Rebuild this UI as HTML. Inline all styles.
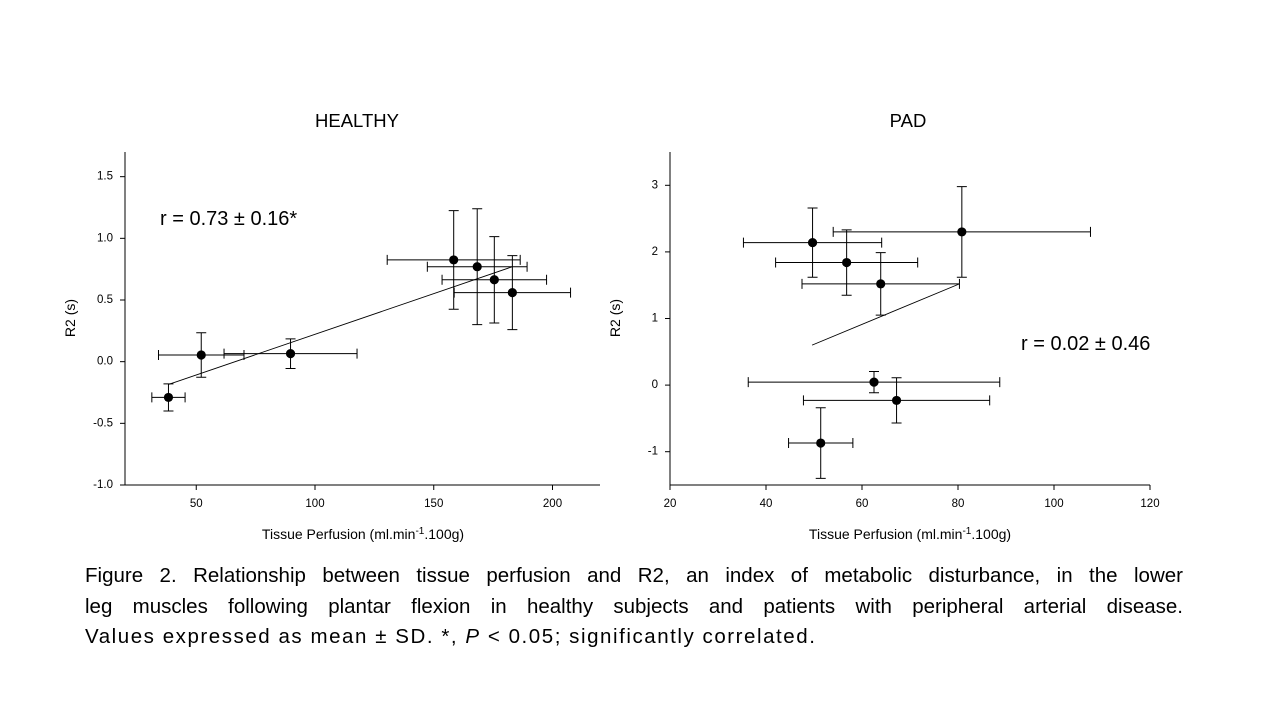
<!DOCTYPE html>
<html><head><meta charset="utf-8">
<style>
body{margin:0;background:#fff;width:1280px;height:720px;overflow:hidden;font-family:"Liberation Sans",Arial,sans-serif;}
#cap{position:absolute;left:85px;top:561px;width:1098px;font-size:20.5px;line-height:30.5px;color:#000;}
#cap .j{text-align:justify;text-align-last:justify;white-space:nowrap;}
#cap .l3{letter-spacing:1.55px;white-space:nowrap;}
</style></head><body>
<svg id="chart" width="1280" height="720" style="position:absolute;left:0;top:0"></svg>
<div id="cap"><div class="j">Figure 2. Relationship between tissue perfusion and R2, an index of metabolic disturbance, in the lower</div><div class="j">leg muscles following plantar flexion in healthy subjects and patients with peripheral arterial disease.</div><div class="l3">Values expressed as mean ± SD. *, <i>P</i> &lt; 0.05; significantly correlated.</div></div>
<script>
const healthyX=[38.3,52.1,89.7,158.4,168.3,175.5,183.1];
const healthyY=[-0.29,0.054,0.065,0.825,0.77,0.664,0.56];
const healthyXErr=[7,18,28,28,21,22,24.5];
const healthyYErr=[0.11,0.18,0.12,0.4,0.47,0.35,0.3];
const healthyFitX=[38.3,183.1];
const healthyFitY=[-0.185,0.77];
const healthyXTicks=[50,100,150,200];
const healthyYTicks=[1.5,1.0,0.5,0.0,-0.5,-1.0];
const padX=[49.7,56.8,63.9,80.8,62.5,67.2,51.4];
const padY=[2.14,1.84,1.52,2.30,0.045,-0.23,-0.87];
const padXErr=[14.4,14.8,16.4,26.8,26.2,19.4,6.7];
const padYErr=[0.52,0.49,0.47,0.68,0.16,0.34,0.53];
const padFitX=[49.6,80.3];
const padFitY=[0.60,1.52];
const padXTicks=[20,40,60,80,100,120];
const padYTicks=[3,2,1,0,-1];

const NS='http://www.w3.org/2000/svg';
const svg=document.getElementById('chart');
function mk(tag,attrs,parent,txt){const e=document.createElementNS(NS,tag);for(const k in attrs)e.setAttribute(k,attrs[k]);if(txt!==undefined)e.textContent=txt;(parent||svg).appendChild(e);return e;}

function panel(cfg){
  const g=mk('g',{});
  
  
  const sx=v=>cfg.x0+(v-cfg.xmin)/(cfg.xmax-cfg.xmin)*(cfg.x1-cfg.x0);
  const sy=v=>cfg.y0-(v-cfg.ymin)/(cfg.ymax-cfg.ymin)*(cfg.y0-cfg.y1);
  const ax=mk('path',{d:`M${cfg.x0},${cfg.y1}V${cfg.y0}H${cfg.x1}`,fill:'none',stroke:'#000','stroke-width':1},g);
  
  
  cfg.xt.forEach(t=>{
    const x=sx(t);
    mk('line',{x1:x,x2:x,y1:cfg.y0,y2:cfg.y0+5,stroke:'#000'},g);
    const l=mk('text',{x:x,y:cfg.y0+22,'font-size':11.5,'text-anchor':'middle','font-family':'Liberation Sans, sans-serif'},g,cfg.fmtX(t));
    
    
  });
  cfg.yt.forEach(t=>{
    const y=sy(t);
    mk('line',{x1:cfg.x0-5,x2:cfg.x0,y1:y,y2:y,stroke:'#000'},g);
    const l=mk('text',{x:cfg.x0-12,y:y+3,'font-size':11.5,'text-anchor':'end','font-family':'Liberation Sans, sans-serif'},g,cfg.fmtY(t));
    
    
  });
  const fit=mk('line',{x1:sx(cfg.fx[0]),y1:sy(cfg.fy[0]),x2:sx(cfg.fx[1]),y2:sy(cfg.fy[1]),stroke:'#000','stroke-width':0.9},g);
  
  
  cfg.X.forEach((xv,i)=>{
    const yv=cfg.Y[i],cx=sx(xv),cy=sy(yv);
    const xa=sx(xv-cfg.XE[i]),xb=sx(xv+cfg.XE[i]),ya=sy(yv-cfg.YE[i]),yb=sy(yv+cfg.YE[i]);
    const eb=mk('path',{d:`M${xa},${cy}H${xb}M${xa},${cy-5}V${cy+5}M${xb},${cy-5}V${cy+5}M${cx},${ya}V${yb}M${cx-5},${ya}H${cx+5}M${cx-5},${yb}H${cx+5}`,stroke:'#000','stroke-width':1,fill:'none'},g);
    
    
    const p=mk('circle',{cx:cx,cy:cy,r:4.6,fill:'#000'},g);
    
    
  });
  const t=mk('text',{x:cfg.tx,y:127,'font-size':18.5,'text-anchor':'middle','font-family':'Liberation Sans, sans-serif'},g,cfg.title);
  
  
  const yl=mk('text',{x:0,y:0,'font-size':14,'text-anchor':'middle',transform:`translate(${cfg.x0-50},318) rotate(-90)`,'font-family':'Liberation Sans, sans-serif'},g,'R2 (s)');
  
  
  const xl=mk('text',{x:cfg.xlx,y:539,'font-size':14,'text-anchor':'middle','font-family':'Liberation Sans, sans-serif'},g);
  
  
  mk('tspan',{},xl,'Tissue Perfusion (ml.min');
  mk('tspan',{dy:-5,'font-size':10},xl,'-1');
  mk('tspan',{dy:5},xl,'.100g)');
  const r=mk('text',{x:cfg.rx,y:cfg.ry,'font-size':20,'font-family':'Liberation Sans, sans-serif'},g,cfg.rtext);
  
  
}
panel({name:'healthy',x0:125,x1:600,y0:485,y1:152,xmin:20,xmax:220,ymin:-1,ymax:1.7,
  X:healthyX,Y:healthyY,XE:healthyXErr,YE:healthyYErr,fx:healthyFitX,fy:healthyFitY,
  xt:healthyXTicks,yt:healthyYTicks,fmtX:v=>String(v),fmtY:v=>v.toFixed(1),
  title:'HEALTHY',tx:357,xlx:363,rx:160,ry:225,rtext:'r = 0.73 ± 0.16*'});
panel({name:'pad',x0:670,x1:1150,y0:485,y1:152,xmin:20,xmax:120,ymin:-1.5,ymax:3.5,
  X:padX,Y:padY,XE:padXErr,YE:padYErr,fx:padFitX,fy:padFitY,
  xt:padXTicks,yt:padYTicks,fmtX:v=>String(v),fmtY:v=>String(v),
  title:'PAD',tx:908,xlx:910,rx:1021,ry:350,rtext:'r = 0.02 ± 0.46'});
</script>
</body></html>
